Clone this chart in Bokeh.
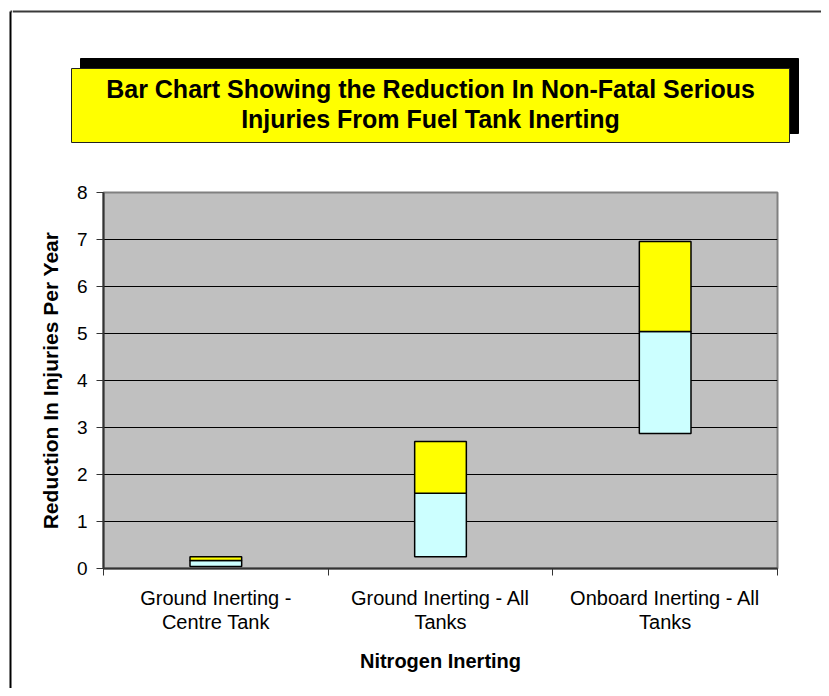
from bokeh.plotting import figure
from bokeh.models import Range1d, FixedTicker
from bokeh.layouts import column, row
from bokeh.core.properties import value
from bokeh.embed import file_html
from bokeh.resources import INLINE

# ---- data ----
categories = ["Ground Inerting -\nCentre Tank", "Ground Inerting - All\nTanks", "Onboard Inerting - All\nTanks"]
lower = [0.04, 0.25, 2.87]   # bottom of the cyan segment
mid = [0.17, 1.60, 5.04]     # top of cyan / bottom of yellow
upper = [0.25, 2.70, 6.96]   # top of yellow segment
y_ticks = [0, 1, 2, 3, 4, 5, 6, 7, 8]
title_lines = ["Bar Chart Showing the Reduction In Non-Fatal Serious", "Injuries From Fuel Tank Inerting"]
x_title = "Nitrogen Inerting"
y_title = "Reduction In Injuries Per Year"

FONT = "Liberation Sans"
TOTAL_W, TOTAL_H = 821, 688
STRIP_W = 12
TITLE_H = 165
RIGHT_W = TOTAL_W - STRIP_W
CHART_H = TOTAL_H - TITLE_H


def blank(x0, y0, w, h):
    # decoration canvas whose coordinates are page pixels (y downwards)
    f = figure(width=w, height=h, output_backend="svg", toolbar_location=None,
               x_range=Range1d(x0, x0 + w), y_range=Range1d(y0 + h, y0),
               x_axis_type=None, y_axis_type=None, min_border=0)
    f.outline_line_color = None
    f.background_fill_color = "white"
    f.border_fill_color = "white"
    return f


# ---- left strip carrying the outer frame line ----
s = blank(0, 0, STRIP_W, TOTAL_H)
s.segment(x0=[10, 10], y0=[11, 11], x1=[10, STRIP_W], y1=[TOTAL_H, 11],
          line_color=["black", "#3a3a3a"], line_width=2)

# ---- title area ----
t = blank(STRIP_W, 0, RIGHT_W, TITLE_H)
t.segment(x0=[STRIP_W], y0=[11], x1=[TOTAL_W], y1=[11], line_color="#3a3a3a", line_width=2)
t.quad(left=[80], right=[798], top=[58], bottom=[133], fill_color="black", line_color="black")
t.quad(left=[71], right=[789], top=[68], bottom=[142], fill_color="#FFFF00", line_color="#222222", line_width=1)
t.text(x=[430, 430], y=[88, 118], text=title_lines, text_align="center", text_baseline="middle",
       text_font=value(FONT), text_font_size="25px", text_font_style="bold", text_color="black")

# ---- chart ----
xs = [i + 1 for i in range(len(categories))]
p = figure(width=RIGHT_W, height=CHART_H, output_backend="svg", toolbar_location=None,
           x_range=Range1d(0.5, len(categories) + 0.5), y_range=Range1d(0, 8),
           min_border_left=103 - STRIP_W, min_border_right=TOTAL_W - 777,
           min_border_top=192 - TITLE_H, min_border_bottom=TOTAL_H - 568)

p.background_fill_color = "#C0C0C0"
p.border_fill_color = "white"
p.outline_line_color = "#808080"
p.outline_line_width = 2

p.xgrid.visible = False
p.ygrid.ticker = FixedTicker(ticks=y_ticks[1:-1])
p.ygrid.grid_line_color = "black"
p.ygrid.grid_line_width = 1

ya = p.yaxis[0]
ya.ticker = FixedTicker(ticks=y_ticks)
ya.axis_line_color = "#333333"
ya.axis_line_width = 2
ya.major_tick_out = 7
ya.major_tick_in = 0
ya.major_tick_line_color = "#333333"
ya.minor_tick_line_color = None
ya.major_label_standoff = 9
ya.major_label_text_font = FONT
ya.major_label_text_font_size = "19px"
ya.major_label_text_color = "black"
ya.axis_label = y_title
ya.axis_label_text_font = FONT
ya.axis_label_text_font_size = "21px"
ya.axis_label_text_font_style = "bold"
ya.axis_label_text_color = "black"
ya.axis_label_standoff = 12

xa = p.xaxis[0]
xa.ticker = FixedTicker(ticks=xs, minor_ticks=[x - 0.5 for x in xs] + [xs[-1] + 0.5])
xa.major_label_overrides = {x: c for x, c in zip(xs, categories)}
xa.axis_line_color = "#333333"
xa.axis_line_width = 2
xa.major_tick_line_color = None
xa.major_tick_out = 0
xa.major_tick_in = 0
xa.minor_tick_line_color = "#333333"
xa.minor_tick_out = 7
xa.minor_tick_in = 0
xa.major_label_standoff = 11
xa.major_label_text_font = FONT
xa.major_label_text_font_size = "20px"
xa.major_label_text_color = "black"
xa.major_label_text_line_height = 1.1
xa.axis_label = x_title
xa.axis_label_text_font = FONT
xa.axis_label_text_font_size = "20px"
xa.axis_label_text_font_style = "bold"
xa.axis_label_text_color = "black"
xa.axis_label_standoff = 14

p.vbar(x=xs, width=0.23, bottom=lower, top=mid, fill_color="#CCFFFF", line_color="black", line_width=1.5)
p.vbar(x=xs, width=0.23, bottom=mid, top=upper, fill_color="#FFFF00", line_color="black", line_width=1.5)

layout = row(s, column(t, row(p, spacing=0), spacing=0), spacing=0)
open("out.html", "w").write(file_html(layout, INLINE))
